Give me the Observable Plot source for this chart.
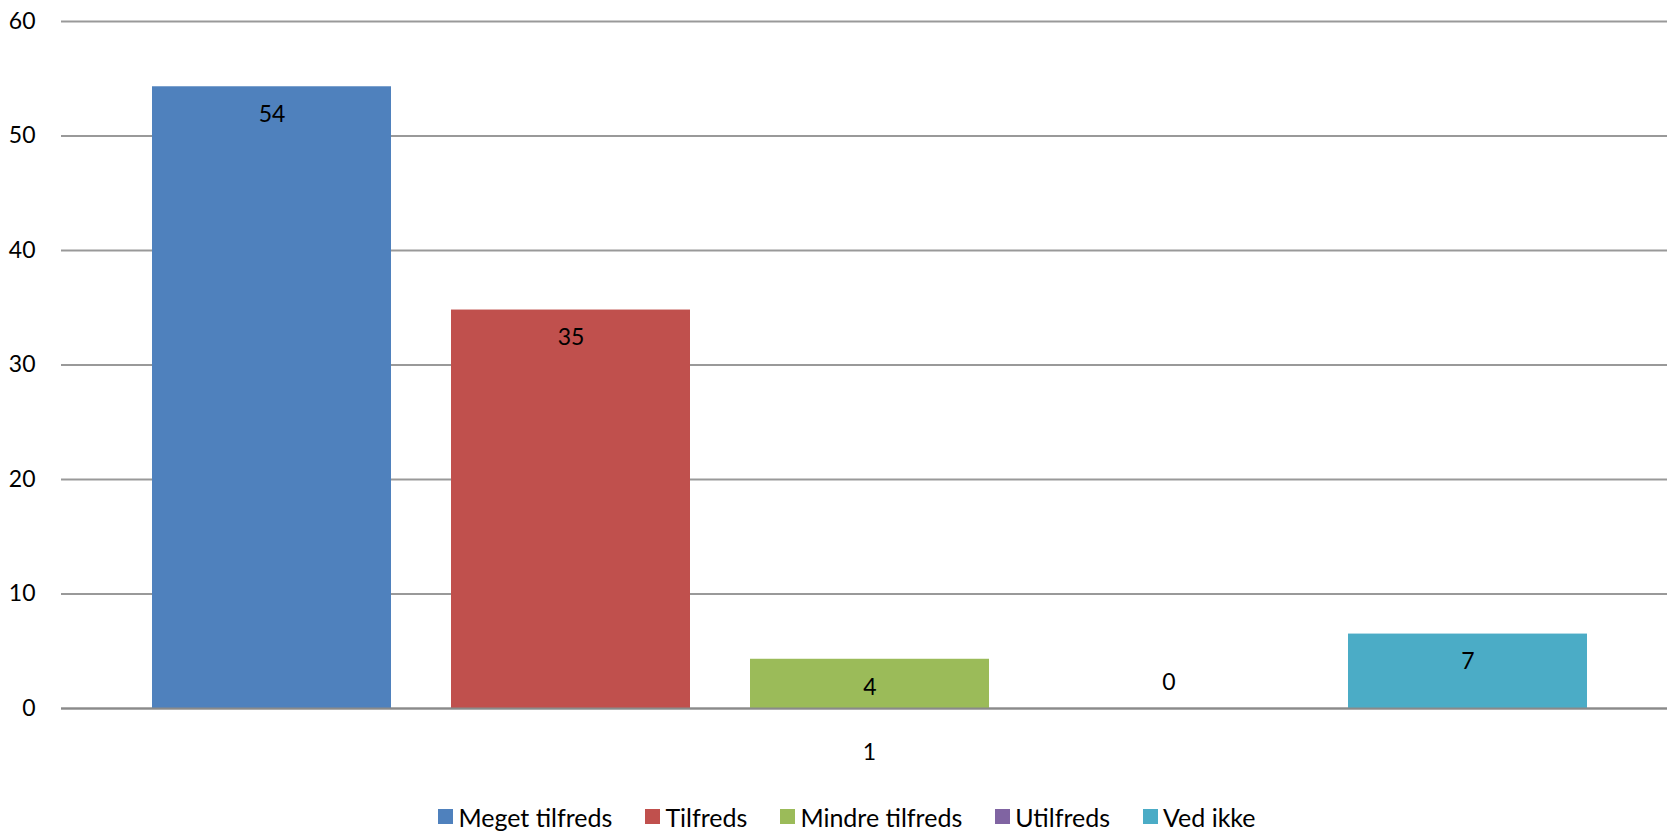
<!DOCTYPE html>
<html>
<head>
<meta charset="utf-8">
<script src="https://cdn.jsdelivr.net/npm/d3@7"></script>
<script src="https://cdn.jsdelivr.net/npm/@observablehq/plot@0.6"></script>
<style>
  html, body { margin: 0; padding: 0; background: #fff; }
  #chart { width: 1667px; }
  #legend { display: flex; justify-content: center; margin-top: 10px; padding-left: 60px; }
  #legend .lg-swatch { margin-right: 33px; }
  #legend .lg-swatch > svg { margin-right: 5px; }
</style>
</head>
<body>
<div id="chart"></div>
<script>
const categories = ["Meget tilfreds", "Tilfreds", "Mindre tilfreds", "Utilfreds", "Ved ikke"];
const values = [54.3, 34.8, 4.3, 0, 6.5];
const labels = ["54", "35", "4", "0", "7"];
const colors = ["#4F81BD", "#C0504D", "#9BBB59", "#8064A2", "#4BACC6"];
const yTicks = [0, 10, 20, 30, 40, 50, 60];
const groupLabel = "1";

const data = categories.map((c, i) => ({category: c, value: values[i], label: labels[i]}));
const font = "Lato, 'Open Sans', sans-serif";

const plot = Plot.plot({
  width: 1667,
  height: 790,
  marginLeft: 61,
  marginRight: 0,
  marginTop: 21,
  marginBottom: 82,
  style: {fontFamily: font, fontSize: "23px", color: "#000", background: "#fff"},
  x: {domain: categories, range: [121, 1619], paddingInner: 0.2, paddingOuter: 0.1, axis: null},
  y: {domain: [0, 60], ticks: yTicks},
  color: {domain: categories, range: colors},
  marks: [
    Plot.ruleY(yTicks, {stroke: "#999", strokeWidth: 1.8}),
    Plot.barY(data, {x: "category", y: "value", fill: "category"}),
    Plot.ruleY([0], {stroke: "#8a8a8a", strokeWidth: 2}),
    Plot.axisY({ticks: yTicks, tickSize: 0, tickPadding: 26, label: null, fontSize: 23, fill: "#000"}),
    Plot.text(data.filter(d => d.value > 0), {x: "category", y: "value", text: "label", dy: 28, fontSize: 23, fill: "#000"}),
    Plot.text(data.filter(d => d.value === 0), {x: "category", y: "value", text: "label", dy: -26, fontSize: 23, fill: "#000"}),
    Plot.text([groupLabel], {frameAnchor: "bottom", dx: 5, dy: 51, text: d => d, fontSize: 23, fill: "#000"})
  ]
});
document.getElementById("chart").appendChild(plot);

const legend = Plot.legend({
  color: {domain: categories, range: colors},
  swatchSize: 15,
  className: "lg",
  style: {fontFamily: font, fontSize: "25px", color: "#000"}
});
legend.id = "legend";
document.getElementById("chart").appendChild(legend);
</script>
</body>
</html>
